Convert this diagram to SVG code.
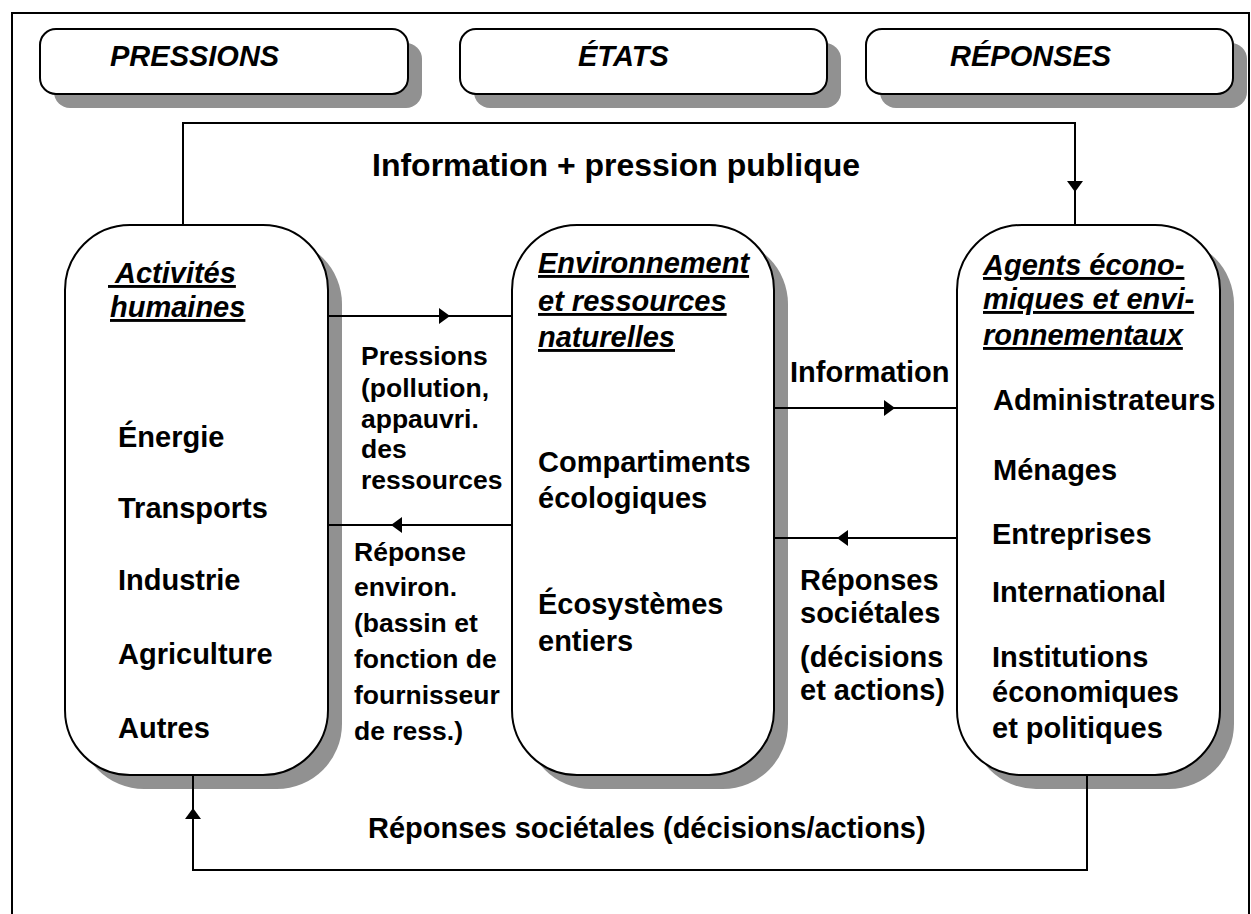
<svg xmlns="http://www.w3.org/2000/svg" width="1251" height="914" viewBox="0 0 1251 914">
<defs>
<style>
.frame{fill:none;stroke:#000;stroke-width:2}
.shadow{fill:#919191}
.box{fill:#fff;stroke:#000;stroke-width:2}
.hdr{font-family:"Liberation Sans",Arial,sans-serif;font-weight:bold;font-style:italic;font-size:29px;fill:#000}
.ttl{font-family:"Liberation Sans",Arial,sans-serif;font-weight:bold;font-style:italic;font-size:29px;fill:#000;text-decoration:underline}
.txt{font-family:"Liberation Sans",Arial,sans-serif;font-weight:bold;font-size:29px;fill:#000}
.lbl{font-family:"Liberation Sans",Arial,sans-serif;font-weight:bold;font-size:26.5px;fill:#000}
.conn{fill:none;stroke:#000;stroke-width:2}
</style>
<marker id="ah" markerUnits="userSpaceOnUse" markerWidth="12" markerHeight="18" refX="11" refY="8" orient="auto">
<path d="M0,0 L11,8 L0,16 Z" fill="#000"/>
</marker>
</defs>
<rect width="1251" height="914" fill="#fff"/>
<path class="frame" d="M12,914 V13 H1249 V914"/>

<g id="hdr-pressions">
<rect class="shadow" x="54" y="43" width="368" height="65" rx="16"/>
<rect class="box" x="40" y="29" width="368" height="65" rx="16"/>
<text class="hdr" x="110" y="66">PRESSIONS</text>
</g>
<g id="hdr-etats">
<rect class="shadow" x="474" y="43" width="367" height="65" rx="16"/>
<rect class="box" x="460" y="29" width="367" height="65" rx="16"/>
<text class="hdr" x="578" y="66">ÉTATS</text>
</g>
<g id="hdr-reponses">
<rect class="shadow" x="880" y="43" width="367" height="65" rx="16"/>
<rect class="box" x="866" y="29" width="367" height="65" rx="16"/>
<text class="hdr" x="950" y="66">RÉPONSES</text>
</g>

<g id="node-activites">
<rect class="shadow" x="79" y="239" width="263" height="550" rx="65"/>
<rect class="box" x="65" y="225" width="263" height="550" rx="65"/>
<text class="ttl" x="108" y="283" xml:space="preserve"> Activités</text>
<text class="ttl" x="110" y="317">humaines</text>
<text class="txt" x="118" y="447">Énergie</text>
<text class="txt" x="118" y="518">Transports</text>
<text class="txt" x="118" y="590">Industrie</text>
<text class="txt" x="118" y="664">Agriculture</text>
<text class="txt" x="118" y="738">Autres</text>
</g>

<g id="node-environnement">
<rect class="shadow" x="526" y="239" width="262" height="550" rx="65"/>
<rect class="box" x="512" y="225" width="262" height="550" rx="65"/>
<text class="ttl" x="538" y="273">Environnement</text>
<text class="ttl" x="538" y="311">et ressources</text>
<text class="ttl" x="538" y="347">naturelles</text>
<text class="txt" x="538" y="472">Compartiments</text>
<text class="txt" x="538" y="508">écologiques</text>
<text class="txt" x="538" y="614">Écosystèmes</text>
<text class="txt" x="538" y="651">entiers</text>
</g>

<g id="node-agents">
<rect class="shadow" x="971" y="239" width="263" height="550" rx="65"/>
<rect class="box" x="957" y="225" width="263" height="550" rx="65"/>
<text class="ttl" x="983" y="275">Agents écono-</text>
<text class="ttl" x="983" y="309">miques et envi-</text>
<text class="ttl" x="983" y="345">ronnementaux</text>
<text class="txt" x="993" y="410">Administrateurs</text>
<text class="txt" x="993" y="480">Ménages</text>
<text class="txt" x="992" y="544">Entreprises</text>
<text class="txt" x="992" y="602">International</text>
<text class="txt" x="992" y="667">Institutions</text>
<text class="txt" x="992" y="702">économiques</text>
<text class="txt" x="992" y="738">et politiques</text>
</g>

<g id="connectors">
<path class="conn" d="M183,225 V123 H1075 V225"/>
<path class="conn" d="M1075,170 V192" marker-end="url(#ah)"/>
<path class="conn" d="M328,316 H512"/>
<path class="conn" d="M420,316 H450" marker-end="url(#ah)"/>
<path class="conn" d="M512,525 H328"/>
<path class="conn" d="M420,525 H391" marker-end="url(#ah)"/>
<path class="conn" d="M774,408 H957"/>
<path class="conn" d="M860,408 H895" marker-end="url(#ah)"/>
<path class="conn" d="M957,538 H774"/>
<path class="conn" d="M870,538 H837" marker-end="url(#ah)"/>
<path class="conn" d="M1087,775 V870 H193 V775"/>
<path class="conn" d="M193,840 V808" marker-end="url(#ah)"/>
<text class="txt" x="372" y="176" style="font-size:32px">Information + pression publique</text>
<text class="txt" x="368" y="838">Réponses sociétales (décisions/actions)</text>
<text class="lbl" x="361" y="365">Pressions</text>
<text class="lbl" x="361" y="397">(pollution,</text>
<text class="lbl" x="361" y="428">appauvri.</text>
<text class="lbl" x="361" y="458">des</text>
<text class="lbl" x="361" y="489">ressources</text>
<text class="lbl" x="354" y="561">Réponse</text>
<text class="lbl" x="354" y="596">environ.</text>
<text class="lbl" x="354" y="632">(bassin et</text>
<text class="lbl" x="354" y="668">fonction de</text>
<text class="lbl" x="354" y="704">fournisseur</text>
<text class="lbl" x="354" y="740">de ress.)</text>
<text class="txt" x="790" y="382">Information</text>
<text class="txt" x="800" y="590">Réponses</text>
<text class="txt" x="800" y="623">sociétales</text>
<text class="txt" x="800" y="667">(décisions</text>
<text class="txt" x="800" y="700">et actions)</text>
</g>
</svg>
